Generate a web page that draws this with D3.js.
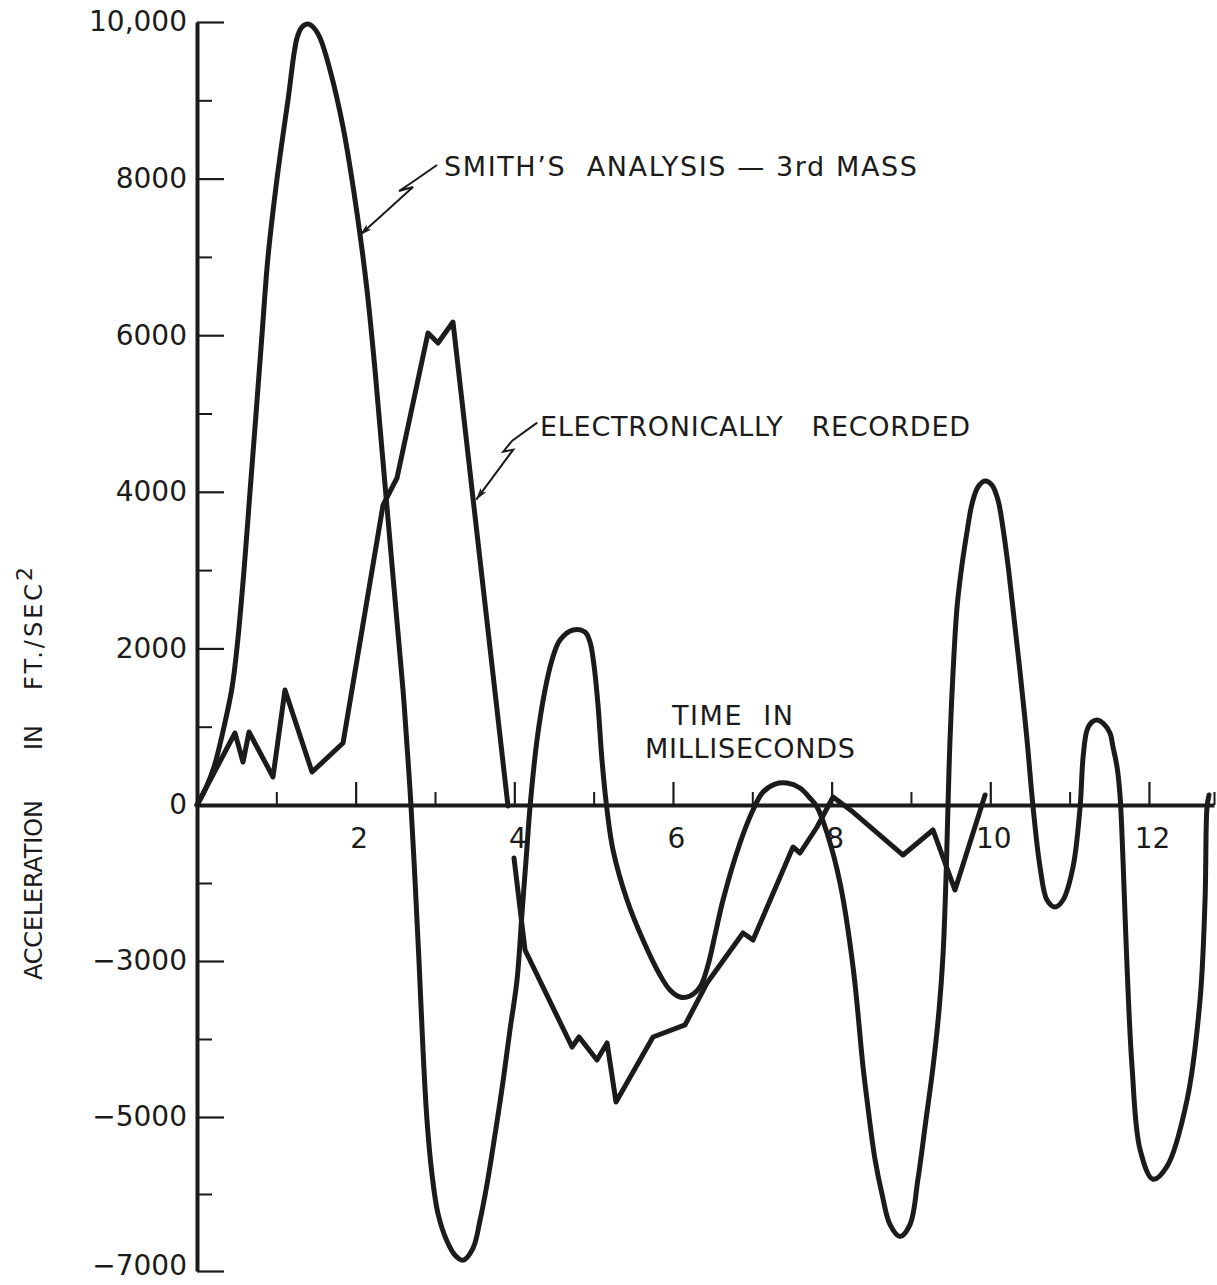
<!DOCTYPE html>
<html>
<head>
<meta charset="utf-8">
<script src="https://d3js.org/d3.v7.min.js"></script>
<style>
  html, body { margin: 0; padding: 0; background: #ffffff; }
  svg { display: block; }
  text { font-family: "DejaVu Sans", "Liberation Sans", sans-serif; fill: #1b1b1b; }
</style>
</head>
<body>
<svg id="chart" width="1217" height="1285"></svg>
<script>
// ---- Smith's analysis, 3rd mass (time in ms, acceleration in ft/sec^2) ----
const smithTime = [
  0, 0.101, 0.214, 0.340, 0.441, 0.504, 0.593, 0.668, 0.744, 0.819,
  0.895, 1.008, 1.147, 1.261, 1.324, 1.400, 1.475, 1.551, 1.677, 1.841,
  2.017, 2.143, 2.244, 2.332, 2.420, 2.508, 2.597, 2.660, 2.697, 2.748,
  2.798, 2.849, 2.899, 2.962, 3.038, 3.152, 3.252, 3.353, 3.479, 3.567,
  3.656, 3.756, 3.857, 3.945, 4.034, 4.097, 4.160, 4.198, 4.286, 4.387,
  4.475, 4.576, 4.740, 4.891, 4.954, 5.004, 5.055, 5.105, 5.169, 5.244,
  5.421, 5.622, 5.836, 5.962, 6.089, 6.215, 6.341, 6.442, 6.530, 6.631,
  6.845, 7.009, 7.135, 7.286, 7.437, 7.601, 7.727, 7.816, 7.942, 8.106,
  8.270, 8.396, 8.446, 8.547, 8.635, 8.736, 8.862, 8.988, 9.088, 9.189,
  9.278, 9.354, 9.404, 9.441, 9.467, 9.492, 9.530, 9.581, 9.643, 9.706,
  9.769, 9.845, 9.934, 10.021, 10.097, 10.160, 10.223, 10.299, 10.375, 10.463,
  10.539, 10.627, 10.715, 10.816, 10.917, 11.043, 11.132, 11.170, 11.220, 11.282,
  11.346, 11.421, 11.509, 11.547, 11.598, 11.635, 11.673, 11.724, 11.787, 11.888,
  12.051, 12.228, 12.480, 12.644, 12.707, 12.732, 12.757
];
const smithAccel = [
  0, 192, 485, 996, 1494, 2005, 3001, 3997, 4993, 6002,
  6998, 7994, 9003, 9795, 9935, 9973, 9922, 9795, 9386, 8658,
  7560, 6577, 5555, 4533, 3512, 2490, 1469, 575, 0, -1442,
  -2981, -4141, -5038, -5743, -6256, -6615, -6795, -6859, -6705, -6346,
  -5872, -5231, -4551, -3885, -3244, -2077, -808, -38, 830, 1469,
  1852, 2107, 2235, 2209, 2082, 1788, 1277, 575, -96, -865,
  -1827, -2596, -3179, -3372, -3461, -3448, -3333, -3051, -2500, -1827,
  -731, -96, 166, 268, 281, 217, 89, -38, -538, -1500,
  -3077, -4359, -4782, -5551, -6000, -6397, -6551, -6397, -5808, -5038,
  -4359, -3628, -2885, -1442, 0, 830, 1686, 2528, 3065, 3486,
  3844, 4061, 4137, 4086, 3895, 3537, 3065, 2388, 1698, 830,
  -38, -1192, -1827, -1962, -1827, -1192, -38, 613, 958, 1060,
  1085, 1047, 919, 741, 485, 128, -1058, -3077, -4359, -5423,
  -5808, -5641, -4782, -3500, -1827, -38, 128
];

// ---- Electronically recorded trace (null marks a break in the trace) ----
const recordedTime = [
  0, 0.479, 0.580, 0.656, 0.958, 1.109, 1.450, 1.841, 2.345, 2.521,
  2.912, 3.038, 3.227, 3.920, 3.960, 3.996, 4.135, 4.728, 4.816, 5.042,
  5.169, 5.282, 5.748, 6.152, 6.429, 6.883, 7.009, 7.513, 7.602, 7.816,
  8.018, 8.270, 8.900, 9.278, 9.555, 9.934
];
const recordedAccel = [
  0, 919, 549, 932, 358, 1469, 421, 792, 3831, 4176,
  6027, 5900, 6168, -20, null, -1019, -2788, -4103, -3974, -4269,
  -4051, -4808, -3974, -3820, -3282, -2461, -2596, -808, -923, -423,
  102, -135, -962, -481, -1635, 128
];

// ---- Axes ----
const timeEnd = 12.82;
const xMajorTicks = [2, 4, 6, 8, 10, 12];
const xTickLabels = ["2", "4", "6", "8", "10", "12"];
const xMinorTicks = [1, 3, 5, 7, 9, 11, timeEnd];

const yMajorTicks = [10000, 8000, 6000, 4000, 2000, 0, -3000, -5000, -7000];
const yTickLabels = ["10,000", "8000", "6000", "4000", "2000", "0", "\u22123000", "\u22125000", "\u22127000"];
const yMinorTicks = [9000, 7000, 5000, 3000, 1000, -1500, -4000, -6000];

// ---- Labels ----
const smithLabel = "SMITH\u2019S  ANALYSIS \u2014 3rd MASS";
const recordedLabel = "ELECTRONICALLY   RECORDED";
const xTitle = ["TIME  IN", "MILLISECONDS"];
const yTitleWords = ["ACCELERATION", "IN", "FT./SEC"];
const yTitleSup = "2";

// Leader arrow tips, in data units (time, acceleration)
const smithTip = [2.055, 7279];
const recordedTip = [3.52, 3900];

const svg = d3.select("#chart");
const ink = "#1b1b1b";

const x = d3.scaleLinear().domain([0, timeEnd]).range([197, 1214]);
// The printed scale below zero is graduated 0, -3000, -5000, -7000 at equal spacing
const y = d3.scaleLinear()
  .domain([-7000, -5000, -3000, 0, 10000])
  .range([1271, 1117, 961, 805, 22]);

// y axis: major ticks with labels, minor ticks without
const gy = svg.append("g")
  .attr("transform", `translate(${x(0)},0)`)
  .call(d3.axisLeft(y).tickValues(yMajorTicks).tickSize(-27).tickSizeOuter(0)
    .tickPadding(10).tickFormat((d, i) => yTickLabels[i]));
gy.select(".domain").attr("stroke", ink).attr("stroke-width", 4);
gy.selectAll(".tick line").attr("stroke", ink).attr("stroke-width", 2.2);
gy.selectAll(".tick text").attr("font-size", 28).attr("fill", ink)
  .attr("font-family", "\"DejaVu Sans\", sans-serif")
  .attr("dy", (d, i) => i === yMajorTicks.length - 1 ? "0.12em" : "0.32em");

const gy2 = svg.append("g")
  .attr("transform", `translate(${x(0)},0)`)
  .call(d3.axisLeft(y).tickValues(yMinorTicks).tickSize(-15).tickFormat(""));
gy2.select(".domain").remove();
gy2.selectAll(".tick line").attr("stroke", ink).attr("stroke-width", 2);

// x axis along zero acceleration, ticks pointing up
const gx = svg.append("g")
  .attr("transform", `translate(0,${y(0)})`)
  .call(d3.axisBottom(x).tickValues(xMajorTicks).tickSize(-23).tickSizeOuter(0)
    .tickPadding(23).tickFormat((d, i) => xTickLabels[i]));
gx.select(".domain").attr("stroke", ink).attr("stroke-width", 4);
gx.selectAll(".tick line").attr("stroke", ink).attr("stroke-width", 2.2);
gx.selectAll(".tick text").attr("font-size", 28).attr("fill", ink).attr("dx", 3)
  .attr("font-family", "\"DejaVu Sans\", sans-serif");

const gx2 = svg.append("g")
  .attr("transform", `translate(0,${y(0)})`)
  .call(d3.axisBottom(x).tickValues(xMinorTicks).tickSize(-13).tickFormat(""));
gx2.select(".domain").remove();
gx2.selectAll(".tick line").attr("stroke", ink).attr("stroke-width", 2);

// ---- Curves ----
const smithPts = smithTime.map((t, i) => [t, smithAccel[i]]);
const recordedPts = recordedTime.map((t, i) => [t, recordedAccel[i]]);

const smoothLine = d3.line()
  .x(d => x(d[0])).y(d => y(d[1]))
  .curve(d3.curveCatmullRom.alpha(0.5));
const tracedLine = d3.line()
  .defined(d => d[1] !== null)
  .x(d => x(d[0])).y(d => y(d[1]))
  .curve(d3.curveLinear);

svg.append("path").datum(smithPts)
  .attr("d", smoothLine)
  .attr("fill", "none").attr("stroke", ink).attr("stroke-width", 5)
  .attr("stroke-linejoin", "round").attr("stroke-linecap", "round");

svg.append("path").datum(recordedPts)
  .attr("d", tracedLine)
  .attr("fill", "none").attr("stroke", ink).attr("stroke-width", 5)
  .attr("stroke-linejoin", "round").attr("stroke-linecap", "round");

// ---- Leaders with a zig-zag break and arrowhead ----
svg.append("defs").append("marker")
  .attr("id", "arrow")
  .attr("viewBox", "0 0 12 8")
  .attr("refX", 12).attr("refY", 4)
  .attr("markerWidth", 12).attr("markerHeight", 8)
  .attr("markerUnits", "userSpaceOnUse")
  .attr("orient", "auto")
  .append("path").attr("d", "M0,0.5 L12,4 L0,7.5 L3,4 Z").attr("fill", ink);

function leader(tip, offsets) {
  const tx = x(tip[0]), ty = y(tip[1]);
  const pts = offsets.map(o => [tx + o[0], ty + o[1]]).concat([[tx, ty]]);
  svg.append("path")
    .attr("d", d3.line()(pts))
    .attr("fill", "none").attr("stroke", ink).attr("stroke-width", 2)
    .attr("stroke-linejoin", "miter")
    .attr("marker-end", "url(#arrow)");
}
leader(smithTip, [[77, -70], [54, -54], [39, -44], [53, -48]]);
leader(recordedTip, [[61, -77], [36, -59], [27, -48], [37, -50]]);

// ---- Annotations ----
svg.append("text")
  .attr("x", 444).attr("y", 176)
  .attr("font-size", 27)
  .attr("textLength", 473).attr("lengthAdjust", "spacing")
  .style("white-space", "pre")
  .text(smithLabel);

svg.append("text")
  .attr("x", 540).attr("y", 436)
  .attr("font-size", 27)
  .attr("textLength", 430).attr("lengthAdjust", "spacing")
  .style("white-space", "pre")
  .text(recordedLabel);

svg.append("text")
  .attr("x", 672).attr("y", 725)
  .attr("font-size", 27)
  .attr("textLength", 121).attr("lengthAdjust", "spacing")
  .style("white-space", "pre")
  .text(xTitle[0]);
svg.append("text")
  .attr("x", 645).attr("y", 758)
  .attr("font-size", 27)
  .attr("textLength", 210).attr("lengthAdjust", "spacing")
  .text(xTitle[1]);

// Vertical axis title, reading bottom to top
const yt = svg.append("text")
  .attr("transform", "translate(42,980) rotate(-90)")
  .attr("font-size", 24);
yt.append("tspan").attr("x", 0).attr("letter-spacing", -0.2).text(yTitleWords[0]);
yt.append("tspan").attr("x", 230).text(yTitleWords[1]);
yt.append("tspan").attr("x", 290).attr("letter-spacing", 3).text(yTitleWords[2]);
yt.append("tspan").attr("dy", -10).attr("font-size", 22).text(yTitleSup);
</script>
</body>
</html>
